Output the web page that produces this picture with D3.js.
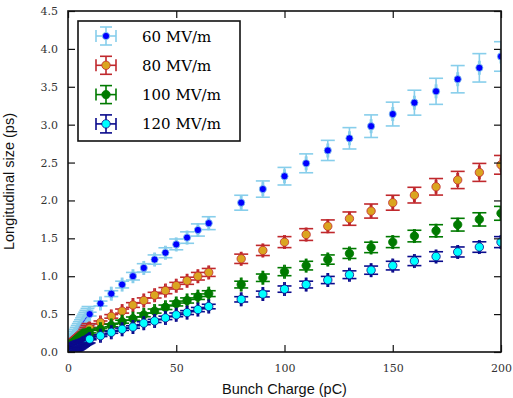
<!DOCTYPE html>
<html>
<head>
<meta charset="utf-8">
<script src="https://cdn.jsdelivr.net/npm/d3@7"></script>
<style>
  body { margin: 0; background: #fff; }
  .tick text { font-family: "DejaVu Serif", serif; font-size: 11px; fill: #333; }
  .lbl { font-family: "Liberation Sans", Arial, sans-serif; font-size: 14.5px; fill: #111; }
</style>
</head>
<body>
<svg id="chart"></svg>
<script>
// charge points (pC)
const denseCharge = [0.5, 1, 1.5, 2, 2.5, 3, 3.5, 4, 4.5, 5, 5.5, 6, 6.5, 7, 7.5, 8, 8.5, 9, 9.5];
const charge = [10, 15, 20, 25, 30, 35, 40, 45, 50, 55, 60, 65,
                80, 90, 100, 110, 120, 130, 140, 150, 160, 170, 180, 190, 200];

// longitudinal size (ps)
const dense60  = [0.12, 0.14, 0.16, 0.18, 0.2, 0.22, 0.24, 0.26, 0.28, 0.3, 0.32, 0.34, 0.36, 0.38, 0.4, 0.42, 0.44, 0.46, 0.48];
const dense80  = [0.08, 0.09, 0.1, 0.11, 0.12, 0.13, 0.14, 0.15, 0.16, 0.17, 0.18, 0.19, 0.2, 0.21, 0.22, 0.24, 0.26, 0.28, 0.3];
const dense100 = [0.06, 0.07, 0.08, 0.09, 0.1, 0.11, 0.12, 0.13, 0.14, 0.15, 0.16, 0.17, 0.18, 0.19, 0.2, 0.21, 0.22, 0.23, 0.24];
const dense120 = [0.03, 0.04, 0.05, 0.055, 0.06, 0.065, 0.07, 0.075, 0.08, 0.085, 0.09, 0.095, 0.1, 0.11, 0.12, 0.13, 0.14, 0.15, 0.16];

const size60  = [0.50, 0.64, 0.77, 0.89, 1.00, 1.11, 1.22, 1.31, 1.42, 1.51, 1.61, 1.70,
                 1.97, 2.15, 2.32, 2.49, 2.66, 2.82, 2.98, 3.14, 3.29, 3.44, 3.60, 3.75, 3.90];
const size80  = [0.31, 0.39, 0.47, 0.54, 0.62, 0.68, 0.75, 0.81, 0.875, 0.94, 1.00, 1.05,
                 1.23, 1.34, 1.45, 1.55, 1.66, 1.76, 1.86, 1.97, 2.07, 2.18, 2.27, 2.37, 2.47];
const size100 = [0.24, 0.30, 0.35, 0.40, 0.44, 0.49, 0.54, 0.59, 0.64, 0.68, 0.73, 0.77,
                 0.89, 0.98, 1.06, 1.14, 1.22, 1.30, 1.38, 1.45, 1.53, 1.60, 1.68, 1.75, 1.83];
const size120 = [0.17, 0.215, 0.26, 0.30, 0.33, 0.38, 0.41, 0.45, 0.49, 0.52, 0.56, 0.60,
                 0.695, 0.765, 0.83, 0.89, 0.95, 1.02, 1.08, 1.14, 1.20, 1.26, 1.32, 1.385, 1.45];

const legendLabels = ["60 MV/m", "80 MV/m", "100 MV/m", "120 MV/m"];
const xTicks = [0, 50, 100, 150, 200];
const yTicks = [0, 0.5, 1, 1.5, 2, 2.5, 3, 3.5, 4, 4.5];

const relErr = 0.05, denseRelErr = 0.25, xErr = 0.3;

const styles = [
  { bar: "#87ceeb", fill: "#0000ff", stroke: "#87ceeb", r: 3.6 },
  { bar: "#c0282d", fill: "#daa520", stroke: "#c0282d", r: 4.2 },
  { bar: "#007a00", fill: "#007a00", stroke: "#007a00", r: 4.2 },
  { bar: "#0a0a8c", fill: "#00ffff", stroke: "#0a0a8c", r: 4.2 }
];

const series = [
  { dense: dense60, vals: size60 },
  { dense: dense80, vals: size80 },
  { dense: dense100, vals: size100 },
  { dense: dense120, vals: size120 }
];

const W = 513, H = 398;
const margin = { top: 11, right: 12, bottom: 46, left: 68 };
const width = W - margin.left - margin.right,
      height = H - margin.top - margin.bottom;

const svg = d3.select("#chart").attr("width", W).attr("height", H);
const g = svg.append("g").attr("transform", `translate(${margin.left},${margin.top})`);

const x = d3.scaleLinear().domain([0, 200]).range([0, width]);
const y = d3.scaleLinear().domain([0, 4.5]).range([height, 0]);

svg.append("defs").append("clipPath").attr("id", "clip")
   .append("rect").attr("width", width).attr("height", height);

const plot = g.append("g").attr("clip-path", "url(#clip)");
const cap = 7;

function drawPoint(layer, cx, cy, err, st, r) {
  const px = x(cx), py = y(cy);
  const y0 = y(cy - err), y1 = y(cy + err);
  const x0 = x(cx - xErr), x1 = x(cx + xErr);
  const e = layer.append("g").attr("stroke", st.bar).attr("stroke-width", 1.6).attr("fill", "none");
  e.append("line").attr("x1", px).attr("x2", px).attr("y1", y0).attr("y2", y1);
  e.append("line").attr("x1", px - cap).attr("x2", px + cap).attr("y1", y0).attr("y2", y0);
  e.append("line").attr("x1", px - cap).attr("x2", px + cap).attr("y1", y1).attr("y2", y1);
  e.append("line").attr("x1", x0).attr("x2", x1).attr("y1", py).attr("y2", py);
  e.append("line").attr("x1", x0).attr("x2", x0).attr("y1", py - cap).attr("y2", py + cap);
  e.append("line").attr("x1", x1).attr("x2", x1).attr("y1", py - cap).attr("y2", py + cap);
  if (r > 0) {
    layer.append("circle").attr("cx", px).attr("cy", py).attr("r", r)
         .attr("fill", st.fill).attr("stroke", st.stroke).attr("stroke-width", 0.8);
  }
}

series.forEach((s, i) => {
  const st = styles[i];
  const layer = plot.append("g");
  s.dense.forEach((v, j) => drawPoint(layer, denseCharge[j], v, v * denseRelErr, st, 1.5));
  s.vals.forEach((v, j) => drawPoint(layer, charge[j], v, v * relErr, st, st.r));
});

// axes with inward ticks, mirrored
const tl = 7;
g.append("g").attr("transform", `translate(0,${height})`)
  .call(d3.axisBottom(x).tickValues(xTicks).tickSizeInner(-tl).tickSizeOuter(0).tickPadding(12).tickFormat(d3.format("d")));
g.append("g").call(d3.axisTop(x).tickValues(xTicks).tickSizeInner(-tl).tickSizeOuter(0).tickFormat(""));
g.append("g")
  .call(d3.axisLeft(y).tickValues(yTicks).tickSizeInner(-tl).tickSizeOuter(0).tickPadding(10).tickFormat(d3.format(".1f")));
g.append("g").attr("transform", `translate(${width},0)`)
  .call(d3.axisRight(y).tickValues(yTicks).tickSizeInner(-tl).tickSizeOuter(0).tickFormat(""));
g.selectAll(".domain").remove();
g.selectAll(".tick line").attr("stroke", "#111").attr("stroke-width", 1.2);

g.append("rect").attr("width", width).attr("height", height)
  .attr("fill", "none").attr("stroke", "#111").attr("stroke-width", 1.6);

// labels
svg.append("text").attr("class", "lbl")
  .attr("x", margin.left + width / 2).attr("y", 394)
  .attr("text-anchor", "middle").text("Bunch Charge (pC)");
svg.append("text").attr("class", "lbl")
  .attr("transform", `translate(14,${margin.top + height / 2}) rotate(-90)`)
  .attr("text-anchor", "middle").text("Longitudinal size (ps)");

// legend
const lg = g.append("g").attr("transform", "translate(10,10)");
lg.append("rect").attr("width", 162).attr("height", 120)
  .attr("fill", "#fff").attr("stroke", "#111").attr("stroke-width", 1.6);
legendLabels.forEach((lab, i) => {
  const cy = 15 + i * 29.3, cx = 28;
  const st = styles[i];
  const e = lg.append("g").attr("stroke", st.bar).attr("stroke-width", 1.6);
  e.append("line").attr("x1", cx - 10).attr("x2", cx + 10).attr("y1", cy).attr("y2", cy);
  e.append("line").attr("x1", cx).attr("x2", cx).attr("y1", cy - 9).attr("y2", cy + 9);
  e.append("line").attr("x1", cx - 6).attr("x2", cx + 6).attr("y1", cy - 9).attr("y2", cy - 9);
  e.append("line").attr("x1", cx - 6).attr("x2", cx + 6).attr("y1", cy + 9).attr("y2", cy + 9);
  e.append("line").attr("x1", cx - 10).attr("x2", cx - 10).attr("y1", cy - 6).attr("y2", cy + 6);
  e.append("line").attr("x1", cx + 10).attr("x2", cx + 10).attr("y1", cy - 6).attr("y2", cy + 6);
  lg.append("circle").attr("cx", cx).attr("cy", cy).attr("r", st.r)
    .attr("fill", st.fill).attr("stroke", st.stroke).attr("stroke-width", 0.8);
  lg.append("text").attr("x", 64).attr("y", cy + 5.5)
    .style("font-family", "'DejaVu Serif', serif").style("font-size", "15px")
    .text(lab);
});
</script>
</body>
</html>
